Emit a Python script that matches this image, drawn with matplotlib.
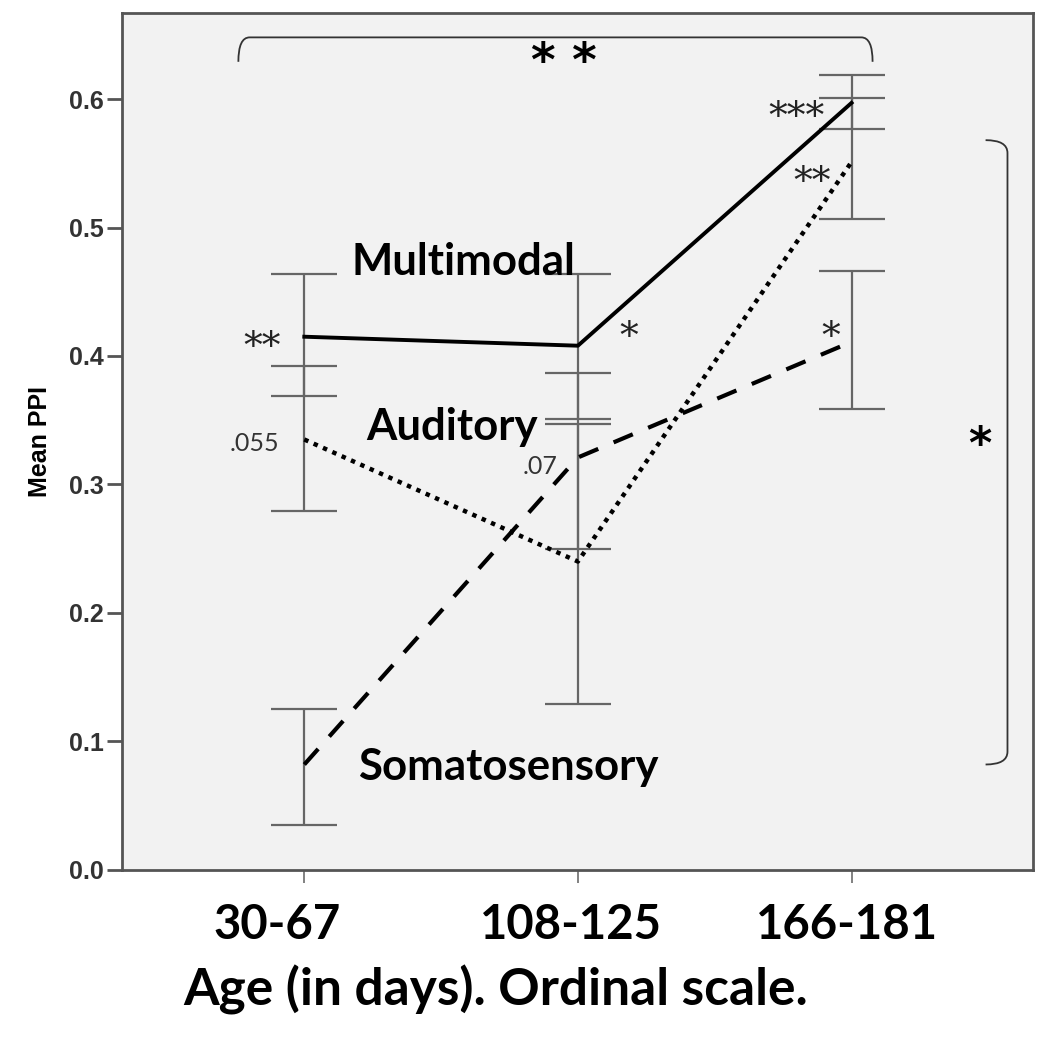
import matplotlib
matplotlib.use('Agg')

import matplotlib.pyplot as plt
from matplotlib.path import Path
from matplotlib.patches import PathPatch
from matplotlib.transforms import ScaledTranslation
import numpy as np

# Altersgruppen (ordinal)
altersgruppen = ["30-67", "108-125", "166-181"]

# Mittelwerte und Fehlerbalken (untere / obere Grenze)
multimodal = [0.415, 0.408, 0.597]
multimodal_unten = [0.369, 0.351, 0.577]
multimodal_oben = [0.464, 0.464, 0.619]

auditory = [0.335, 0.240, 0.551]
auditory_unten = [0.279, 0.129, 0.507]
auditory_oben = [0.392, 0.347, 0.601]

somato = [0.082, 0.321, 0.411]
somato_unten = [0.035, 0.250, 0.359]
somato_oben = [0.125, 0.387, 0.466]

y_ticks = [0.0, 0.1, 0.2, 0.3, 0.4, 0.5, 0.6]

fig = plt.figure(figsize=(10.5, 10.38), dpi=100)
ax = fig.add_axes([0.116, 0.162, 0.868, 0.8255])
ax.set_facecolor("#f2f2f2")

x = np.arange(len(altersgruppen))

rahmen = "#555555"
fb_farbe = "#666666"

for mittel, unten, oben in [(multimodal, multimodal_unten, multimodal_oben),
                            (auditory, auditory_unten, auditory_oben),
                            (somato, somato_unten, somato_oben)]:
    m = np.array(mittel)
    fehler = [m - np.array(unten), np.array(oben) - m]
    ax.errorbar(x, m, yerr=fehler, fmt="none", ecolor=fb_farbe,
                elinewidth=1.6, capsize=24, capthick=1.6, zorder=2)

ax.plot(x, multimodal, color="black", lw=2.8, linestyle="-", zorder=3)
ax.plot(x, auditory, color="black", lw=3.2, linestyle=(0, (1, 1.3)), zorder=3)
ax.plot(x, somato, color="black", lw=3.0, linestyle=(0, (5, 4)), zorder=3)

ax.set_xlim(-0.667, 2.664)
ax.set_ylim(0, 0.667)

ax.set_yticks(y_ticks)
ax.set_yticklabels([f"{v:.1f}" for v in y_ticks], fontsize=18,
                   fontweight="bold", color="#333333", family="Liberation Sans")
ax.tick_params(axis="y", length=11, width=2, color=rahmen, pad=2)

ax.set_xticks(x)
ax.set_xticklabels(altersgruppen, fontsize=34, fontweight="bold",
                   family=["Lato", "DejaVu Sans"])
ax.tick_params(axis="x", length=9, width=1.3, color="#777777", pad=15)
# Beschriftungen im Original leicht nach links versetzt
for lbl, dx in zip(ax.get_xticklabels(), [-27, -7, -5]):
    lbl.set_transform(lbl.get_transform() + ScaledTranslation(dx / 100, 0, fig.dpi_scale_trans))

for s in ax.spines.values():
    s.set_color(rahmen)
    s.set_linewidth(2)

ax.set_ylabel("Mean PPI", fontsize=18, fontweight="bold", labelpad=12,
              family="Liberation Sans")

fig.text(0.472, 0.046, "Age (in days). Ordinal scale.", fontsize=37,
         fontweight="bold", ha="center", va="center",
         family=["Lato", "DejaVu Sans"])

# Reihenbeschriftungen
beschr = dict(fontsize=31.5, fontweight="bold", ha="center", va="center",
              family=["Lato", "DejaVu Sans"])
ax.text(0.58, 0.473, "Multimodal", **beschr)
ax.text(0.54, 0.345, "Auditory", **beschr)
ax.text(0.746, 0.080, "Somatosensory", **beschr)

# Signifikanzen
stern = dict(fontsize=27, ha="center", va="center", color="#222222",
             family="DejaVu Serif")
ax.text(-0.154, 0.406, "**", **stern)
ax.text(1.185, 0.414, "*", **stern)
ax.text(1.80, 0.585, "***", **stern)
ax.text(1.857, 0.535, "**", **stern)
ax.text(1.923, 0.414, "*", **stern)

wert = dict(fontsize=18, ha="center", va="center", color="#333333",
            family=["Lato", "DejaVu Sans"])
ax.text(-0.183, 0.332, ".055", **wert)
ax.text(0.863, 0.314, ".07", **wert)

# Klammer oben
oben_path = Path([(-0.241, 0.629), (-0.241, 0.648), (-0.20, 0.648),
                  (2.036, 0.648), (2.077, 0.648), (2.077, 0.629)],
                 [Path.MOVETO, Path.CURVE3, Path.CURVE3,
                  Path.LINETO, Path.CURVE3, Path.CURVE3])
ax.add_patch(PathPatch(oben_path, fill=False, lw=1.3, color="#333333"))
ax.text(0.95, 0.628, "* *", fontsize=34, fontweight="bold", ha="center",
        va="center", family="DejaVu Sans")

# Klammer rechts
rechts_path = Path([(2.49, 0.568), (2.57, 0.568), (2.57, 0.558),
                    (2.57, 0.092), (2.57, 0.082), (2.49, 0.082)],
                   [Path.MOVETO, Path.CURVE3, Path.CURVE3,
                    Path.LINETO, Path.CURVE3, Path.CURVE3])
ax.add_patch(PathPatch(rechts_path, fill=False, lw=1.3, color="#333333"))
ax.text(2.47, 0.330, "*", fontsize=32, fontweight="bold", ha="center",
        va="center", family="DejaVu Sans")

fig.savefig("out.png", dpi=100)
